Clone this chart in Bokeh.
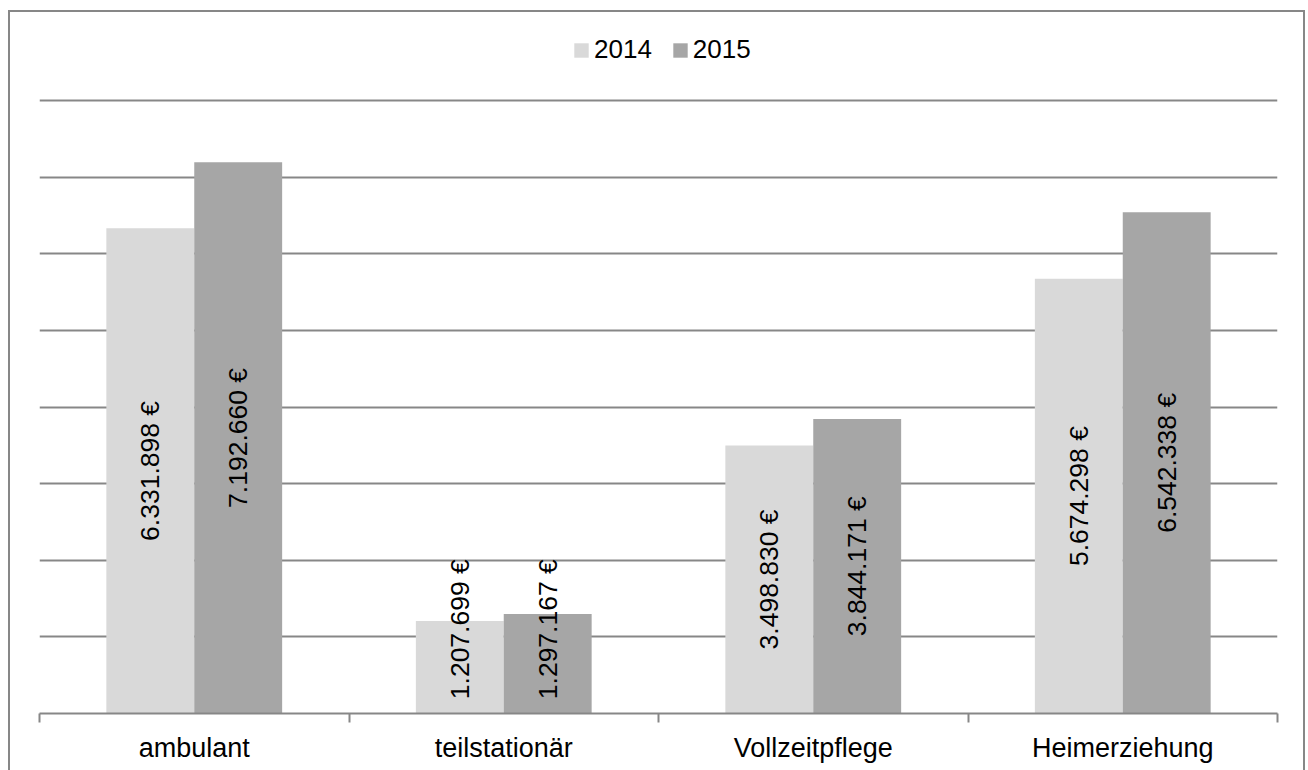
import math
from bokeh.plotting import figure
from bokeh.models import Range1d, FixedTicker, Legend, LegendItem, ColumnDataSource
from bokeh.core.properties import value
from bokeh.embed import file_html
from bokeh.resources import INLINE

# ---- data ----
categories = ["ambulant", "teilstationär", "Vollzeitpflege", "Heimerziehung"]
series_names = ["2014", "2015"]
values_2014 = [6331898, 1207699, 3498830, 5674298]
values_2015 = [7192660, 1297167, 3844171, 6542338]
y_ticks = [0, 1000000, 2000000, 3000000, 4000000, 5000000, 6000000, 7000000, 8000000]

# ---- style / layout ----
FONT = "Liberation Sans"
GRID = "#878787"
COLORS = ["#D9D9D9", "#A6A6A6"]
BAR_W = 0.568              # width of one bar, in units of half a category
LABEL_MIN_CENTER = 1.10e6  # short bars: keep the rotated label inside the plot
FIG_W, FIG_H = 1297, 760
BORDER_L, BORDER_R, BORDER_T, BORDER_B = 29, 30, 2, 59
GRID_AREA_PX = 613         # pixel height taken by the gridded value range
FRAME_PX = FIG_H + 12 - 12 - BORDER_T - BORDER_B  # frame height in pixels
# the frame also holds the legend above the top gridline
y_end = y_ticks[-1] * (FIG_H - BORDER_T - BORDER_B) / GRID_AREA_PX


def fmt(v):
    return f"{v:,}".replace(",", ".") + " €"


n = len(categories)
centers = [2 * i + 1 for i in range(n)]
bounds = [2 * i for i in range(n + 1)]

p = figure(
    width=FIG_W, height=FIG_H,
    x_range=Range1d(bounds[0], bounds[-1]),
    y_range=Range1d(y_ticks[0], y_end),
    output_backend="svg", toolbar_location=None,
    min_border_left=BORDER_L, min_border_right=BORDER_R,
    min_border_top=BORDER_T, min_border_bottom=BORDER_B,
    background_fill_color="white", border_fill_color="white",
)
p.outline_line_color = None
p.styles = {
    "border-top": "2px solid #878787",
    "border-left": "2px solid #878787",
    "border-right": "2px solid #878787",
    "margin-top": "10px",
    "margin-left": "8px",
}

# grid / axes
p.xgrid.grid_line_color = None
p.yaxis.visible = False
p.yaxis.ticker = FixedTicker(ticks=y_ticks)
p.ygrid.ticker = FixedTicker(ticks=y_ticks)
p.ygrid.grid_line_color = GRID
p.ygrid.grid_line_width = 2

xa = p.xaxis[0]
xa.ticker = FixedTicker(ticks=centers, minor_ticks=bounds)
xa.major_label_overrides = {c: cat for c, cat in zip(centers, categories)}
xa.major_tick_out = 0
xa.major_tick_in = 0
xa.minor_tick_out = 9
xa.minor_tick_in = 0
xa.minor_tick_line_color = GRID
xa.minor_tick_line_width = 2
xa.axis_line_color = GRID
xa.axis_line_width = 2
xa.major_label_text_font = FONT
xa.major_label_text_font_size = "27px"
xa.major_label_text_color = "black"
xa.major_label_standoff = 10

offsets = [-BAR_W / 2, BAR_W / 2]
series_values = [values_2014, values_2015]
items = []
for name, vals, off, col in zip(series_names, series_values, offsets, COLORS):
    src = ColumnDataSource(dict(
        x=[c + off for c in centers],
        top=vals,
        ly=[max(v / 2, LABEL_MIN_CENTER) for v in vals],
        label=[fmt(v) for v in vals],
    ))
    r = p.vbar(x="x", top="top", bottom=0, width=BAR_W, source=src,
               fill_color=col, line_color=None)
    p.text(x="x", y="ly", text="label", source=src, angle=math.pi / 2,
           text_align="center", text_baseline="middle",
           text_font=value(FONT), text_font_size="26.5px", text_color="black")
    items.append(LegendItem(label=name, renderers=[r]))

legend = Legend(
    items=items, orientation="horizontal", location=(533, 648),
    border_line_color=None, background_fill_alpha=0,
    padding=0, margin=0, spacing=19, glyph_width=18, glyph_height=18,
    label_standoff=4, label_text_font=FONT, label_text_font_size="26px",
    label_text_color="black",
)
p.add_layout(legend, "center")

open("out.html", "w").write(file_html(p, INLINE))
